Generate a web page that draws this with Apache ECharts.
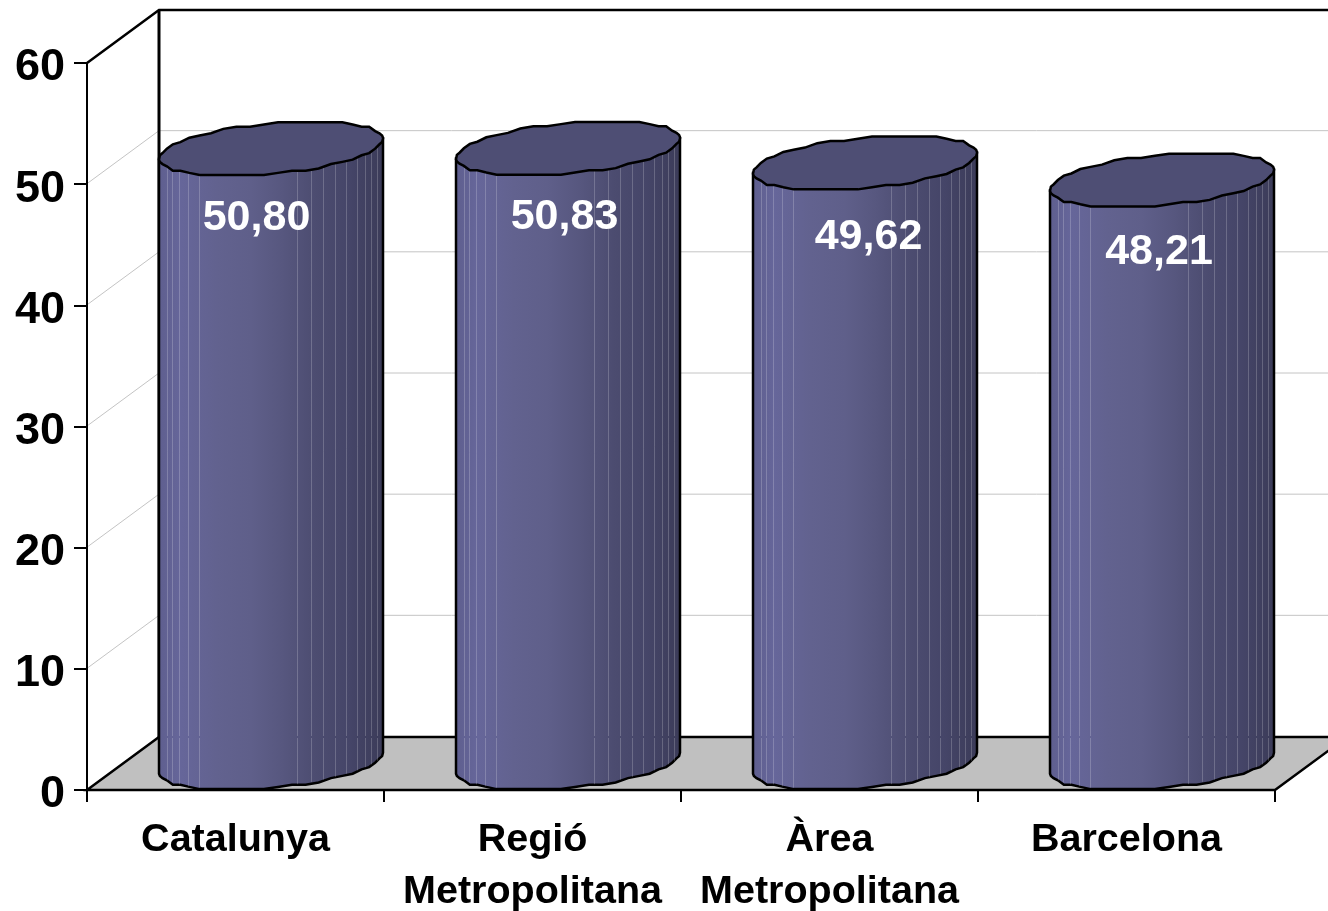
<!DOCTYPE html>
<html><head><meta charset="utf-8">
<style>html,body{margin:0;padding:0;background:#fff}#c{width:1328px;height:911px}</style>
<script src="https://cdn.jsdelivr.net/npm/echarts@6/dist/echarts.min.js"></script>
</head><body><div id="c"></div>
<script>
const categories = ['Catalunya', 'Regió\nMetropolitana', 'Àrea\nMetropolitana', 'Barcelona'];
const values = [50.80, 50.83, 49.62, 48.21];
const yTicks = [0, 10, 20, 30, 40, 50, 60];

// label nudges (the original labels were hand placed)
const labelDx = [-14.5, -3.5, 3.5, -3];
const labelDy = [43.5, 43, 48, 46];

const FONT = '"Liberation Sans", Arial, sans-serif';
const DEPTH_X = 72, DEPTH_Y = 53, BAR_W = 224, SHEAR = 10, MINOR = 25.4;
const SNAP = 2.2;
const STRIPES = [.034,.06,.088,.131,.177,.614,.677,.73,.784,.837,.882,.918,.945,.972];
const SIDE_STOPS = [
  [0,'#5e5e8e'],[.1,'#66669a'],[.26,'#62628f'],[.41,'#5f5f8a'],[.55,'#57577f'],
  [.7,'#4c4c70'],[.85,'#454568'],[1,'#3b3b58']
].map(s => ({offset:s[0], color:s[1]}));

const hyp = Math.sqrt(MINOR*MINOR + SHEAR*SHEAR);
function ring(cx, cy, a0, a1) {
  const pts = [];
  for (let d = a0; d <= a1; d += 7.2) {
    const t = d*Math.PI/180;
    let off = MINOR*Math.sin(t) - SHEAR*Math.cos(t);
    if (d !== 0 && d !== 180 && d !== 360) off = Math.round(off/SNAP)*SNAP;
    pts.push([cx + BAR_W/2*Math.cos(t), cy + off]);
  }
  return pts;
}
function yAt(cy, u) {
  const c = 2*u - 1, t = Math.acos(c);
  return cy + MINOR*Math.sin(t) - SHEAR*c;
}

function renderWalls(params, api) {
  if (params.dataIndex !== 0) return;
  const band = api.size([1, 0])[0];
  const x0 = api.coord([0, 0])[0] - band/2;
  const x1 = x0 + band*categories.length;
  const y0 = api.coord([0, 0])[1];
  const topY = api.coord([0, 60])[1];
  const farRight = x1 + DEPTH_X;
  const children = [];
  children.push({type:'polygon', shape:{points:[[x0,y0],[x0+DEPTH_X,y0-DEPTH_Y],[farRight,y0-DEPTH_Y],[x1,y0]]},
    style:{fill:'#c0c0c0', stroke:'#000', lineWidth:2.5}});
  yTicks.forEach(t => {
    if (t === 0 || t === 60) return;
    const y = api.coord([0, t])[1] - .5;
    children.push({type:'polyline', shape:{points:[[x0,y],[x0+DEPTH_X,y-DEPTH_Y],[farRight,y-DEPTH_Y]]},
      style:{fill:'none', stroke:'#c4c4c4', lineWidth:1}});
  });
  children.push({type:'polyline', shape:{points:[[x0,topY],[x0+DEPTH_X,topY-DEPTH_Y],[farRight,topY-DEPTH_Y]]},
    style:{fill:'none', stroke:'#000', lineWidth:2.5}});
  children.push({type:'line', shape:{x1:x0+DEPTH_X,y1:topY-DEPTH_Y,x2:x0+DEPTH_X,y2:y0-DEPTH_Y},
    style:{stroke:'#000', lineWidth:3}});
  return {type:'group', children};
}

function renderBar(params, api) {
  const i = params.dataIndex, v = api.value(1);
  const band = api.size([1, 0])[0];
  const left = api.coord([i, 0])[0] - band/2 + DEPTH_X;
  const cx = left + BAR_W/2;
  const y0 = api.coord([i, 0])[1];
  const yv = api.coord([i, v])[1] + 1.5;
  const cyB = y0 - hyp, cyT = yv - hyp;
  const floorY = y0 - DEPTH_Y;
  const side = ring(cx, cyB, 0, 180).concat([[left, cyT+SHEAR],[left+BAR_W, cyT-SHEAR]]);
  const children = [{type:'polygon', shape:{points:side},
    style:{fill:{type:'linear',x:0,y:0,x2:1,y2:0,colorStops:SIDE_STOPS}, stroke:'#000', lineWidth:2.5}}];
  STRIPES.forEach(u => {
    const x = Math.round(left + u*BAR_W) + .5;
    const a = yAt(cyT, u), b = yAt(cyB, u);
    children.push({type:'line', shape:{x1:x,y1:a,x2:x,y2:floorY-1}, style:{stroke:'rgba(255,255,255,.2)', lineWidth:1}});
    children.push({type:'line', shape:{x1:x,y1:floorY+1,x2:x,y2:b-1}, style:{stroke:'rgba(255,255,255,.2)', lineWidth:1}});
  });
  children.push({type:'polygon', shape:{points:ring(cx, cyT, 0, 360)},
    style:{fill:'#4e4e74', stroke:'#000', lineWidth:2.5}});
  children.push({type:'text', style:{
    text: v.toFixed(2).replace('.', ','), x: cx + labelDx[i], y: api.coord([i, v])[1] + labelDy[i],
    fill:'#fff', font:'bold 43px '+FONT, align:'center', verticalAlign:'middle'}});
  return {type:'group', children};
}

const chart = echarts.init(document.getElementById('c'), null, {renderer:'canvas'});
chart.setOption({
  animation:false,
  backgroundColor:'#fff',
  grid:{left:87, right:53, top:63, bottom:121, containLabel:false, outerBoundsMode:'none'},
  xAxis:{type:'category', data:categories, z:5,
    axisLine:{lineStyle:{color:'#000', width:2}},
    axisTick:{show:true, length:12, alignWithLabel:false, lineStyle:{color:'#000', width:2}},
    axisLabel:{color:'#000', fontFamily:FONT, fontWeight:'bold', fontSize:39.5, lineHeight:52, margin:24, interval:0}},
  yAxis:{type:'value', min:0, max:60, interval:10, z:5,
    axisLine:{show:true, lineStyle:{color:'#000', width:2}},
    axisTick:{show:true, length:13, lineStyle:{color:'#000', width:2}},
    splitLine:{show:false},
    axisLabel:{color:'#000', fontFamily:FONT, fontWeight:'bold', fontSize:45, margin:22, verticalAlign:'top', lineHeight:10}},
  series:[
    {type:'custom', z:1, renderItem:renderWalls, data:categories.map((c,i)=>[i,0]), encode:{x:0,y:1}, silent:true},
    {type:'custom', z:6, renderItem:renderBar, data:values.map((v,i)=>[i,v]), encode:{x:0,y:1}}
  ]
});
</script></body></html>
